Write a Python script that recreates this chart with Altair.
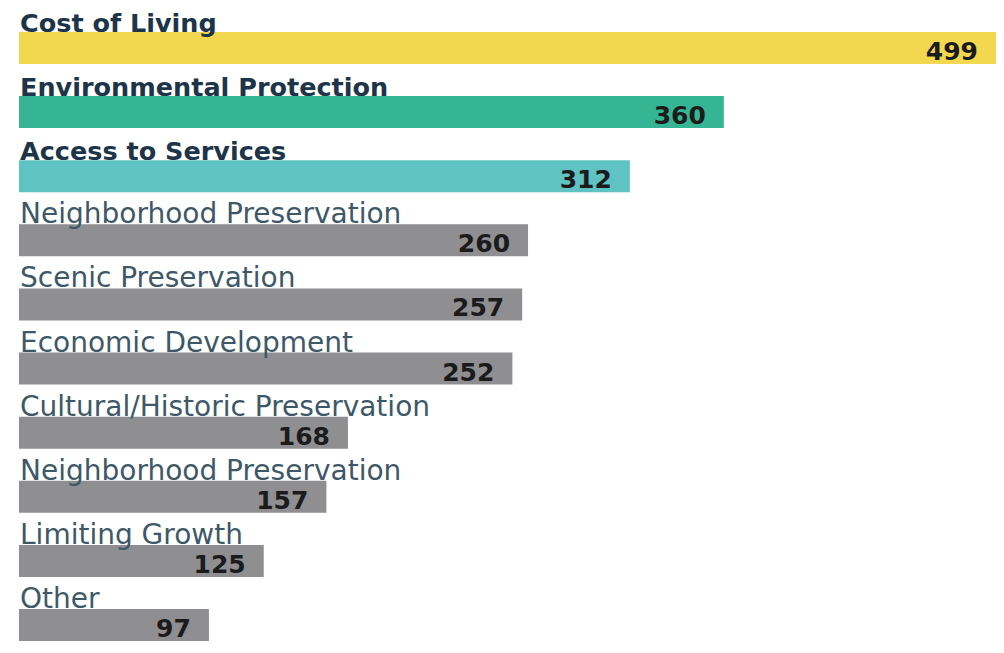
import altair as alt
import pandas as pd

labels = ["Cost of Living", "Environmental Protection", "Access to Services",
          "Neighborhood Preservation", "Scenic Preservation", "Economic Development",
          "Cultural/Historic Preservation", "Neighborhood Preservation",
          "Limiting Growth", "Other"]
values = [499, 360, 312, 260, 257, 252, 168, 157, 125, 97]
bar_colors = ["#f3d84f", "#35b593", "#5fc3c3", "#8f8f91", "#8f8f91", "#8f8f91",
              "#8f8f91", "#8f8f91", "#8f8f91", "#8f8f91"]
highlight = [True, True, True, False, False, False, False, False, False, False]

df = pd.DataFrame({
    "idx": list(range(len(labels))),
    "label": labels,
    "value": values,
    "color": bar_colors,
    "hl": highlight,
    "lcolor": ["#1e3449" if h else "#3e5868" for h in highlight],
})

FONT = "DejaVu Sans"
PLOT_H = 609
STEP = (PLOT_H - 32) / 9
y = alt.Y("idx:O", axis=None,
          scale=alt.Scale(paddingInner=1 - 32 / STEP, paddingOuter=0))
x = alt.X("value:Q", axis=None, scale=alt.Scale(domain=[0, 499], nice=False, zero=True))

base = alt.Chart(df)

bars = base.mark_bar(cornerRadius=0).encode(
    x=x, y=y, color=alt.Color("color:N", scale=None)
)

bold_labels = base.transform_filter("datum.hl").mark_text(
    align="left", baseline="alphabetic", dy=-16.5, fontSize=25.5, fontWeight="bold", font=FONT
).encode(y=y, x=alt.value(1), text="label:N", color=alt.Color("lcolor:N", scale=None))

norm_labels = base.transform_filter("!datum.hl").mark_text(
    align="left", baseline="alphabetic", dy=-17, fontSize=28, fontWeight="normal", font=FONT
).encode(y=y, x=alt.value(1), text="label:N", color=alt.Color("lcolor:N", scale=None))

vals = base.mark_text(
    align="right", baseline="alphabetic", dx=-18, dy=12, fontSize=25, fontWeight="bold",
    font=FONT, color="#1b1b1b"
).encode(y=y, x=x, text="value:Q")

chart = alt.layer(bars, bold_labels, norm_labels, vals).properties(
    width=977, height=PLOT_H,
    autosize=alt.AutoSizeParams(type="none"),
    padding={"left": 11, "top": 24, "right": 0, "bottom": 4},
).configure_view(stroke=None)

chart.save("out.html", embed_options={"renderer": "svg", "actions": False})
